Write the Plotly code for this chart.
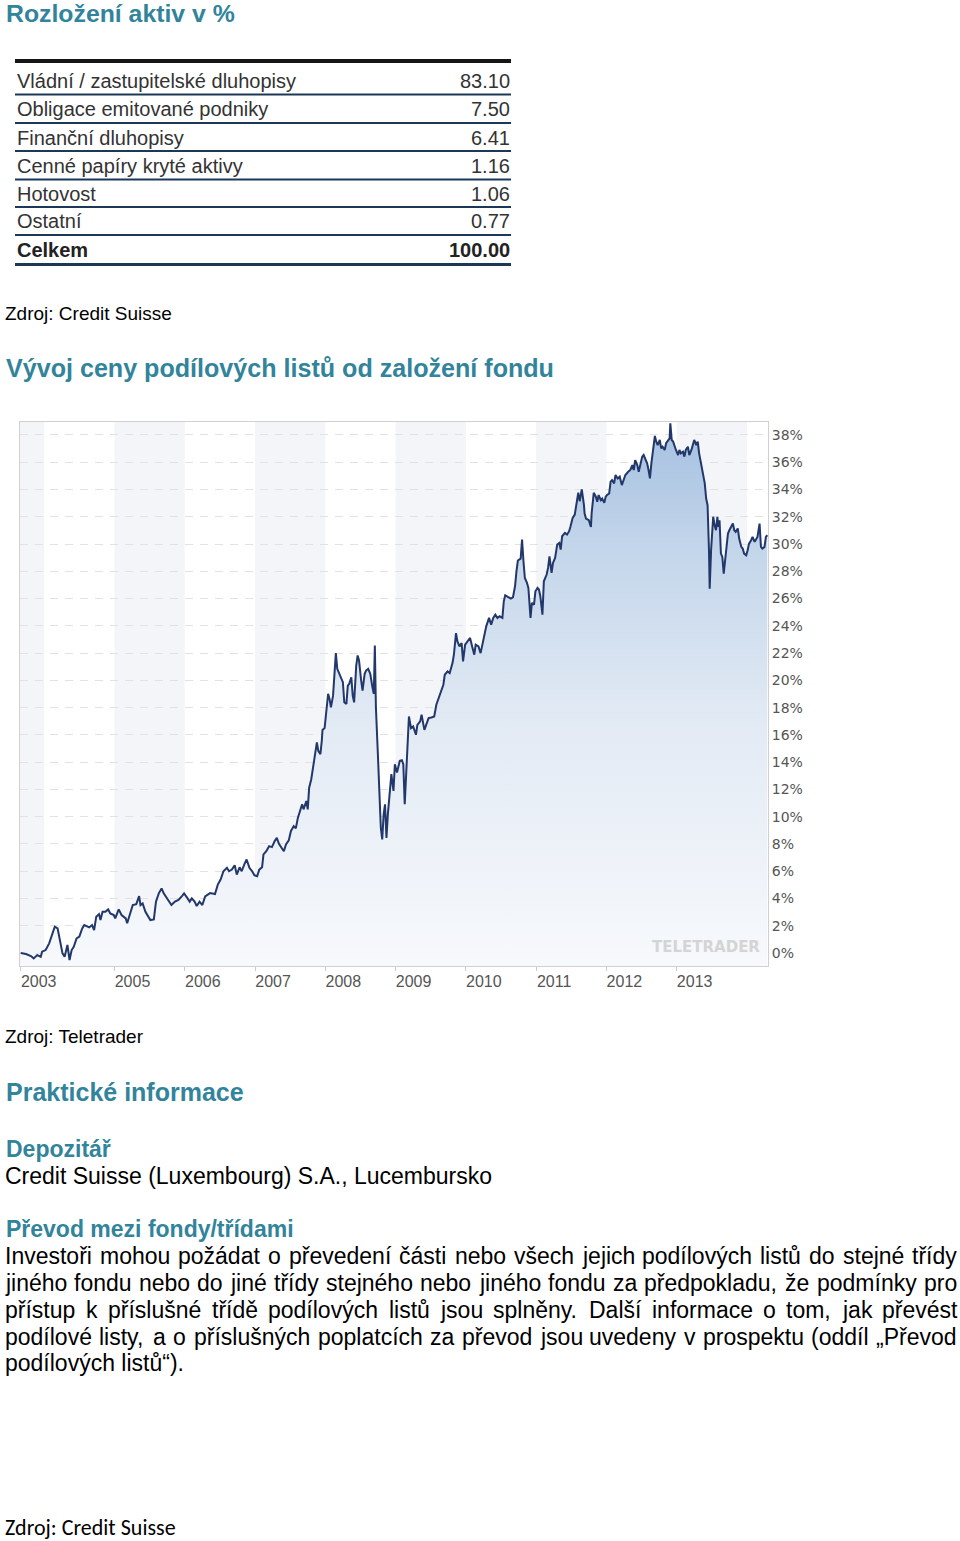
import plotly.graph_objects as go

W, H = 960, 1541

# ---------------- data ----------------
asset_classes = [
    "Vládní / zastupitelské dluhopisy",
    "Obligace emitované podniky",
    "Finanční dluhopisy",
    "Cenné papíry kryté aktivy",
    "Hotovost",
    "Ostatní",
]
asset_weights = [83.10, 7.50, 6.41, 1.16, 1.06, 0.77]
total_label = "Celkem"

# fund performance since launch (decimal year, % change)
points_2003_2006 = [
    (2003.665, 0.00), (2003.74, -0.07), (2003.81, -0.22), (2003.85, -0.39), (2003.90, -0.15),
    (2003.95, -0.27), (2003.97, 0.10), (2004.02, 0.22), (2004.07, 0.71), (2004.11, 1.32),
    (2004.15, 1.93), (2004.19, 1.81), (2004.22, 0.95), (2004.26, -0.02), (2004.29, -0.27),
    (2004.33, 0.59), (2004.36, -0.51), (2004.39, 0.22), (2004.42, 0.46), (2004.46, 1.08),
    (2004.50, 1.20), (2004.54, 1.81), (2004.57, 2.05), (2004.61, 1.93), (2004.64, 1.88),
    (2004.68, 2.05), (2004.71, 1.69), (2004.74, 2.67), (2004.78, 2.86), (2004.80, 2.42),
    (2004.83, 3.03), (2004.87, 3.03), (2004.91, 3.20), (2004.94, 2.91), (2004.99, 2.79),
    (2005.01, 2.54), (2005.06, 3.20), (2005.10, 2.79), (2005.16, 2.54), (2005.18, 2.18),
    (2005.23, 3.03), (2005.26, 3.52), (2005.31, 3.59), (2005.35, 4.18), (2005.37, 3.52),
    (2005.40, 3.64), (2005.44, 3.03), (2005.49, 2.54), (2005.51, 2.42), (2005.56, 2.47),
    (2005.59, 3.77), (2005.63, 4.38), (2005.67, 4.74), (2005.70, 4.38), (2005.73, 4.13),
    (2005.77, 3.84), (2005.81, 3.52), (2005.86, 3.77), (2005.91, 3.89), (2005.96, 4.18),
    (2005.99, 4.38), (2006.03, 4.08), (2006.07, 3.77), (2006.10, 4.01), (2006.14, 3.77),
    (2006.17, 3.45), (2006.21, 3.77), (2006.25, 3.52),
]
points_2006_2009 = [
    (2006.29, 4.16), (2006.36, 4.40), (2006.43, 4.33), (2006.47, 5.02), (2006.51, 5.39),
    (2006.55, 6.00), (2006.60, 6.25), (2006.63, 6.00), (2006.67, 6.12), (2006.71, 6.44),
    (2006.74, 5.75), (2006.78, 6.29), (2006.81, 6.00), (2006.85, 6.54), (2006.88, 6.86),
    (2006.92, 6.25), (2006.96, 6.00), (2006.99, 5.71), (2007.03, 5.63), (2007.06, 6.12),
    (2007.10, 6.29), (2007.12, 7.23), (2007.16, 7.47), (2007.20, 7.84), (2007.24, 7.77),
    (2007.28, 8.21), (2007.31, 8.45), (2007.34, 8.01), (2007.37, 7.77), (2007.41, 7.47),
    (2007.44, 7.96), (2007.48, 8.26), (2007.51, 8.94), (2007.55, 9.31), (2007.58, 9.14),
    (2007.61, 9.93), (2007.64, 10.42), (2007.67, 10.91), (2007.69, 10.54), (2007.73, 11.15),
    (2007.75, 10.54), (2007.77, 12.13), (2007.80, 12.75), (2007.83, 13.85), (2007.86, 15.08),
    (2007.88, 15.45), (2007.90, 14.83), (2007.93, 14.59), (2007.95, 15.57), (2007.96, 16.36),
    (2007.99, 16.50), (2008.01, 17.66), (2008.04, 19.01), (2008.06, 18.64), (2008.08, 18.02),
    (2008.11, 18.88), (2008.13, 20.97), (2008.15, 22.00), (2008.17, 20.85), (2008.20, 20.48),
    (2008.22, 20.23), (2008.25, 19.87), (2008.27, 18.39), (2008.30, 18.27), (2008.32, 19.62),
    (2008.34, 19.74), (2008.37, 20.23), (2008.39, 18.88), (2008.41, 18.39), (2008.44, 21.09),
    (2008.46, 21.83), (2008.48, 21.46), (2008.51, 19.99), (2008.53, 19.25), (2008.56, 20.48),
    (2008.58, 20.72), (2008.61, 20.85), (2008.64, 20.48), (2008.67, 19.50), (2008.69, 19.01),
    (2008.705, 22.56), (2008.72, 18.02), (2008.75, 14.34), (2008.77, 11.64), (2008.79, 9.19),
    (2008.81, 8.33), (2008.83, 10.17), (2008.85, 10.91), (2008.87, 8.45), (2008.89, 10.17),
    (2008.91, 11.15), (2008.93, 12.38), (2008.94, 13.12), (2008.97, 11.89), (2008.99, 13.85),
    (2009.02, 13.24), (2009.04, 13.73), (2009.06, 14.10), (2009.09, 14.15), (2009.11, 13.85),
    (2009.13, 10.91),
]
points_2009_2011 = [
    (2009.19, 17.35), (2009.22, 16.50), (2009.25, 16.62), (2009.29, 16.01), (2009.31, 16.74),
    (2009.35, 16.99), (2009.37, 17.48), (2009.41, 16.37), (2009.44, 16.74), (2009.47, 17.23),
    (2009.51, 17.28), (2009.55, 17.35), (2009.58, 18.21), (2009.61, 18.70), (2009.64, 19.19),
    (2009.68, 19.68), (2009.70, 20.41), (2009.74, 20.66), (2009.77, 20.54), (2009.81, 21.27),
    (2009.83, 21.88), (2009.86, 23.47), (2009.88, 22.86), (2009.91, 22.49), (2009.94, 22.74),
    (2009.96, 21.39), (2009.99, 22.62), (2010.02, 22.86), (2010.06, 23.11), (2010.09, 22.49),
    (2010.12, 21.88), (2010.14, 22.62), (2010.18, 22.49), (2010.21, 22.00), (2010.23, 22.49),
    (2010.26, 23.23), (2010.29, 23.96), (2010.33, 24.58), (2010.36, 24.09), (2010.39, 24.58),
    (2010.42, 24.82), (2010.45, 24.58), (2010.48, 24.70), (2010.52, 24.58), (2010.54, 25.80),
    (2010.56, 26.24), (2010.60, 26.09), (2010.64, 26.00), (2010.67, 26.09), (2010.70, 26.90),
    (2010.72, 28.00), (2010.74, 28.79), (2010.78, 28.93), (2010.80, 30.33), (2010.82, 28.74),
    (2010.84, 27.51), (2010.87, 27.15), (2010.89, 26.78), (2010.92, 24.58), (2010.94, 25.68),
    (2010.97, 25.55), (2010.99, 26.53), (2011.02, 26.78), (2011.04, 26.66), (2011.06, 26.17),
    (2011.09, 24.82), (2011.11, 27.27), (2011.15, 27.76), (2011.17, 28.25), (2011.19, 29.10),
    (2011.22, 27.88), (2011.24, 28.61), (2011.27, 28.98), (2011.30, 29.96), (2011.33, 30.08),
    (2011.35, 29.59), (2011.37, 30.57), (2011.41, 30.82), (2011.44, 30.70), (2011.47, 30.94),
    (2011.49, 31.31), (2011.52, 31.92), (2011.55, 32.16), (2011.57, 32.90), (2011.60, 33.76),
    (2011.62, 33.14), (2011.65, 34.00), (2011.68, 32.90),
]
points_2011_2014 = [
    (2011.69, 32.24), (2011.71, 31.87), (2011.75, 31.75), (2011.78, 31.26), (2011.79, 32.24),
    (2011.82, 33.76), (2011.85, 33.47), (2011.87, 33.10), (2011.89, 33.59), (2011.92, 33.22),
    (2011.94, 33.34), (2011.97, 33.02), (2011.99, 33.47), (2012.01, 33.59), (2012.04, 33.71),
    (2012.06, 34.57), (2012.08, 34.69), (2012.11, 34.45), (2012.13, 35.06), (2012.16, 34.81),
    (2012.19, 34.94), (2012.22, 34.32), (2012.25, 34.81), (2012.27, 35.06), (2012.31, 35.30),
    (2012.34, 35.43), (2012.37, 35.79), (2012.39, 35.43), (2012.41, 36.16), (2012.44, 35.79),
    (2012.46, 35.30), (2012.49, 36.04), (2012.51, 36.41), (2012.53, 36.53), (2012.56, 36.16),
    (2012.58, 35.92), (2012.60, 35.43), (2012.62, 34.81), (2012.64, 35.92), (2012.66, 36.77),
    (2012.69, 37.93), (2012.71, 37.51), (2012.73, 37.26), (2012.76, 37.63), (2012.78, 37.02),
    (2012.80, 37.14), (2012.83, 36.90), (2012.85, 37.39), (2012.87, 37.51), (2012.90, 37.75),
    (2012.91, 38.86), (2012.93, 37.63), (2012.95, 37.51), (2012.97, 37.14), (2012.99, 36.90),
    (2013.02, 36.53), (2013.04, 36.90), (2013.06, 36.65), (2013.09, 36.77), (2013.11, 36.41),
    (2013.13, 36.90), (2013.16, 37.14), (2013.18, 36.53), (2013.21, 36.90), (2013.23, 37.39),
    (2013.25, 37.63), (2013.28, 37.26), (2013.30, 37.51), (2013.32, 36.65), (2013.35, 35.92),
    (2013.37, 35.18), (2013.40, 34.45), (2013.42, 33.34), (2013.44, 32.85), (2013.46, 29.54),
    (2013.47, 26.73), (2013.49, 29.54), (2013.50, 30.52), (2013.52, 32.00), (2013.54, 31.38),
    (2013.56, 31.01), (2013.58, 32.00), (2013.59, 31.26), (2013.61, 31.75), (2013.63, 29.30),
    (2013.65, 29.05), (2013.67, 27.83), (2013.69, 28.81), (2013.71, 30.03), (2013.73, 30.77),
    (2013.75, 31.01), (2013.77, 31.26), (2013.80, 31.50), (2013.82, 31.01), (2013.84, 30.89),
    (2013.87, 31.14), (2013.89, 30.40), (2013.92, 29.79), (2013.94, 29.67), (2013.96, 29.30),
    (2013.99, 29.18), (2014.01, 29.54), (2014.03, 30.03), (2014.06, 30.28), (2014.08, 30.52),
    (2014.11, 30.16), (2014.13, 30.40), (2014.15, 30.52), (2014.18, 31.50), (2014.20, 29.79),
    (2014.22, 29.67), (2014.25, 29.79), (2014.27, 30.52), (2014.29, 30.65),
]

year_tick_values = [2003.665, 2005, 2006, 2007, 2008, 2009, 2010, 2011, 2012, 2013]
year_tick_labels = ["2003", "2005", "2006", "2007", "2008", "2009", "2010", "2011", "2012", "2013"]
pct_tick_values = list(range(0, 40, 2))
pct_tick_labels = [f"{v}%" for v in pct_tick_values]

paragraph_lines = [
    "Investoři mohou požádat o převedení části nebo všech jejich podílových listů do stejné třídy",
    "jiného fondu nebo do jiné třídy stejného nebo jiného fondu za předpokladu, že podmínky pro",
    "přístup k příslušné třídě podílových listů jsou splněny. Další informace o tom, jak převést",
    "podílové listy, a o příslušných poplatcích za převod jsou uvedeny v prospektu (oddíl „Převod",
    "podílových listů“).",
]

# ---------------- styling ----------------
ARIAL = "Liberation Sans, Arial, sans-serif"
TEAL = "#31849b"
X_MIN, X_MAX = 2003.655, 2014.30
Y_MIN, Y_MAX = -0.95, 38.95


def px(x):
    return x / W


def py(y):
    return 1 - y / H


def ann(text, x, y, size, color="#000000", anchor="left", family=ARIAL, bold=False):
    return dict(
        text=f"<b>{text}</b>" if bold else text,
        x=px(x), y=py(y), xref="paper", yref="paper",
        xanchor=anchor, yanchor="middle", showarrow=False,
        font=dict(size=size, color=color, family=family),
    )


pts = points_2003_2006 + points_2006_2009 + points_2009_2011 + points_2011_2014
years = [p[0] for p in pts]
perf = [p[1] for p in pts]

fig = go.Figure()
fig.add_trace(go.Scatter(
    x=[years[0], years[-1]], y=[Y_MIN, Y_MIN], mode="lines",
    line=dict(width=0, color="rgba(0,0,0,0)"), hoverinfo="skip", showlegend=False,
))
fig.add_trace(go.Scatter(
    x=years, y=perf, mode="lines",
    line=dict(color="#22376a", width=2),
    fill="tonexty",
    fillgradient=dict(
        type="vertical",
        colorscale=[[0, "#f7f9fc"], [0.45, "#e2eaf4"], [0.75, "#c5d7eb"], [1, "#a5c0e0"]],
        start=Y_MIN, stop=Y_MAX,
    ),
    showlegend=False, hoverinfo="skip",
))

shapes = []
# alternating year bands
band_starts = [X_MIN] + list(range(2005, 2014, 2))
band_ends = [2004] + [s + 1 for s in range(2005, 2014, 2)]
for s, e in zip(band_starts, band_ends):
    shapes.append(dict(type="rect", xref="x", yref="y domain", x0=s, x1=e, y0=0, y1=1,
                       fillcolor="#f3f5f9", line=dict(width=0), layer="below"))

# table rules
TX0, TX1 = 15, 511
shapes.append(dict(type="line", xref="paper", yref="paper", x0=px(TX0), x1=px(TX1),
                   y0=py(61), y1=py(61), line=dict(color="#151515", width=4)))
for yy in [94.5, 123, 151, 179.5, 207, 235]:
    shapes.append(dict(type="line", xref="paper", yref="paper", x0=px(TX0), x1=px(TX1),
                       y0=py(yy), y1=py(yy), line=dict(color="#1d3857", width=2)))
shapes.append(dict(type="line", xref="paper", yref="paper", x0=px(TX0), x1=px(TX1),
                   y0=py(264.5), y1=py(264.5), line=dict(color="#1d3857", width=3)))

annotations = []
annotations.append(ann("Rozložení aktiv v %", 4, 13, 24.8, TEAL, bold=True))
row_centers = [80.5, 109, 137.5, 165.5, 194, 221.5, 250]
for lab, val, yc in zip(asset_classes, asset_weights, row_centers):
    annotations.append(ann(lab, 15, yc, 20, "#333333"))
    annotations.append(ann(f"{val:.2f}", 512, yc, 20, "#333333", anchor="right"))
annotations.append(ann(total_label, 15, row_centers[-1], 20, "#222222", bold=True))
annotations.append(ann(f"{sum(asset_weights):.2f}", 512, row_centers[-1], 20, "#222222",
                       anchor="right", bold=True))

annotations.append(ann("Zdroj: Credit Suisse", 3, 313, 19))
annotations.append(ann("Vývoj ceny podílových listů od založení fondu", 4, 368.5, 25.1, TEAL, bold=True))
annotations.append(dict(text="<b>TELETRADER</b>", x=2014.21, y=Y_MIN + 0.6, xref="x", yref="y",
                        xanchor="right", yanchor="bottom", showarrow=False,
                        font=dict(size=15, color="#d4d4d4", family="DejaVu Sans")))
annotations.append(ann("Zdroj: Teletrader", 3, 1036.5, 19))
annotations.append(ann("Praktické informace", 4, 1091.5, 25, TEAL, bold=True))
annotations.append(ann("Depozitář", 4, 1148.5, 23, TEAL, bold=True))
annotations.append(ann("Credit Suisse (Luxembourg) S.A., Lucembursko", 3, 1176, 23))
annotations.append(ann("Převod mezi fondy/třídami", 4, 1228.5, 23, TEAL, bold=True))

# justified paragraph using Arial metrics (Liberation Sans is metric compatible)
CW = {
    "a": 556, "b": 556, "c": 500, "d": 556, "e": 556, "f": 278, "g": 556, "h": 556, "i": 222,
    "j": 222, "k": 500, "l": 222, "m": 833, "n": 556, "o": 556, "p": 556, "q": 556, "r": 333,
    "s": 500, "t": 278, "u": 556, "v": 500, "w": 722, "x": 500, "y": 500, "z": 500,
    "á": 556, "é": 556, "í": 278, "ý": 500, "ě": 556, "č": 500, "ř": 333, "š": 500, "ž": 500,
    "ů": 556, ",": 278, ".": 278, "(": 333, ")": 333, "„": 333, "“": 333, "P": 667, "I": 278,
    "D": 722, " ": 278,
}
FS = 23
LX0, LX1 = 5, 957
line_ys = [1255.5, 1282.5, 1309.5, 1336.5, 1363]
for i, (line, yc) in enumerate(zip(paragraph_lines, line_ys)):
    if i == len(paragraph_lines) - 1:
        annotations.append(ann(line, LX0 - 2, yc, FS))
        continue
    words = line.split(" ")
    widths = [sum(CW.get(ch, 556) for ch in w) * FS / 1000 for w in words]
    gap = (LX1 - LX0 - sum(widths)) / (len(words) - 1)
    xx = LX0
    for w, wd in zip(words, widths):
        annotations.append(ann(w, xx - 2, yc, FS))
        xx += wd + gap

annotations.append(ann("Zdroj: Credit Suisse", 3, 1527, 22, family="Carlito, Lato, sans-serif"))

fig.update_layout(
    width=W, height=H,
    margin=dict(l=0, r=0, t=0, b=0),
    paper_bgcolor="white", plot_bgcolor="white",
    showlegend=False,
    shapes=shapes, annotations=annotations,
    xaxis=dict(
        domain=[px(20), px(768)], range=[X_MIN, X_MAX],
        tickvals=year_tick_values, ticktext=year_tick_labels,
        ticks="outside", ticklen=4, tickcolor="#cccccc",
        ticklabelshift=18, ticklabelstandoff=-3,
        showgrid=False, zeroline=False,
        showline=True, linecolor="#d0d0d0", linewidth=1, mirror=True,
        tickfont=dict(size=16, color="#555555", family=ARIAL),
        fixedrange=True,
    ),
    yaxis=dict(
        domain=[py(966), py(422)], range=[Y_MIN, Y_MAX],
        side="right",
        tickvals=pct_tick_values, ticktext=pct_tick_labels,
        ticks="", showgrid=True, gridcolor="#e2e2e2", griddash="8px,7px", gridwidth=1,
        zeroline=False,
        showline=True, linecolor="#d0d0d0", linewidth=1, mirror=True,
        tickfont=dict(size=14, color="#555555", family="DejaVu Sans"),
        fixedrange=True,
    ),
)

fig.write_html("out.html")
